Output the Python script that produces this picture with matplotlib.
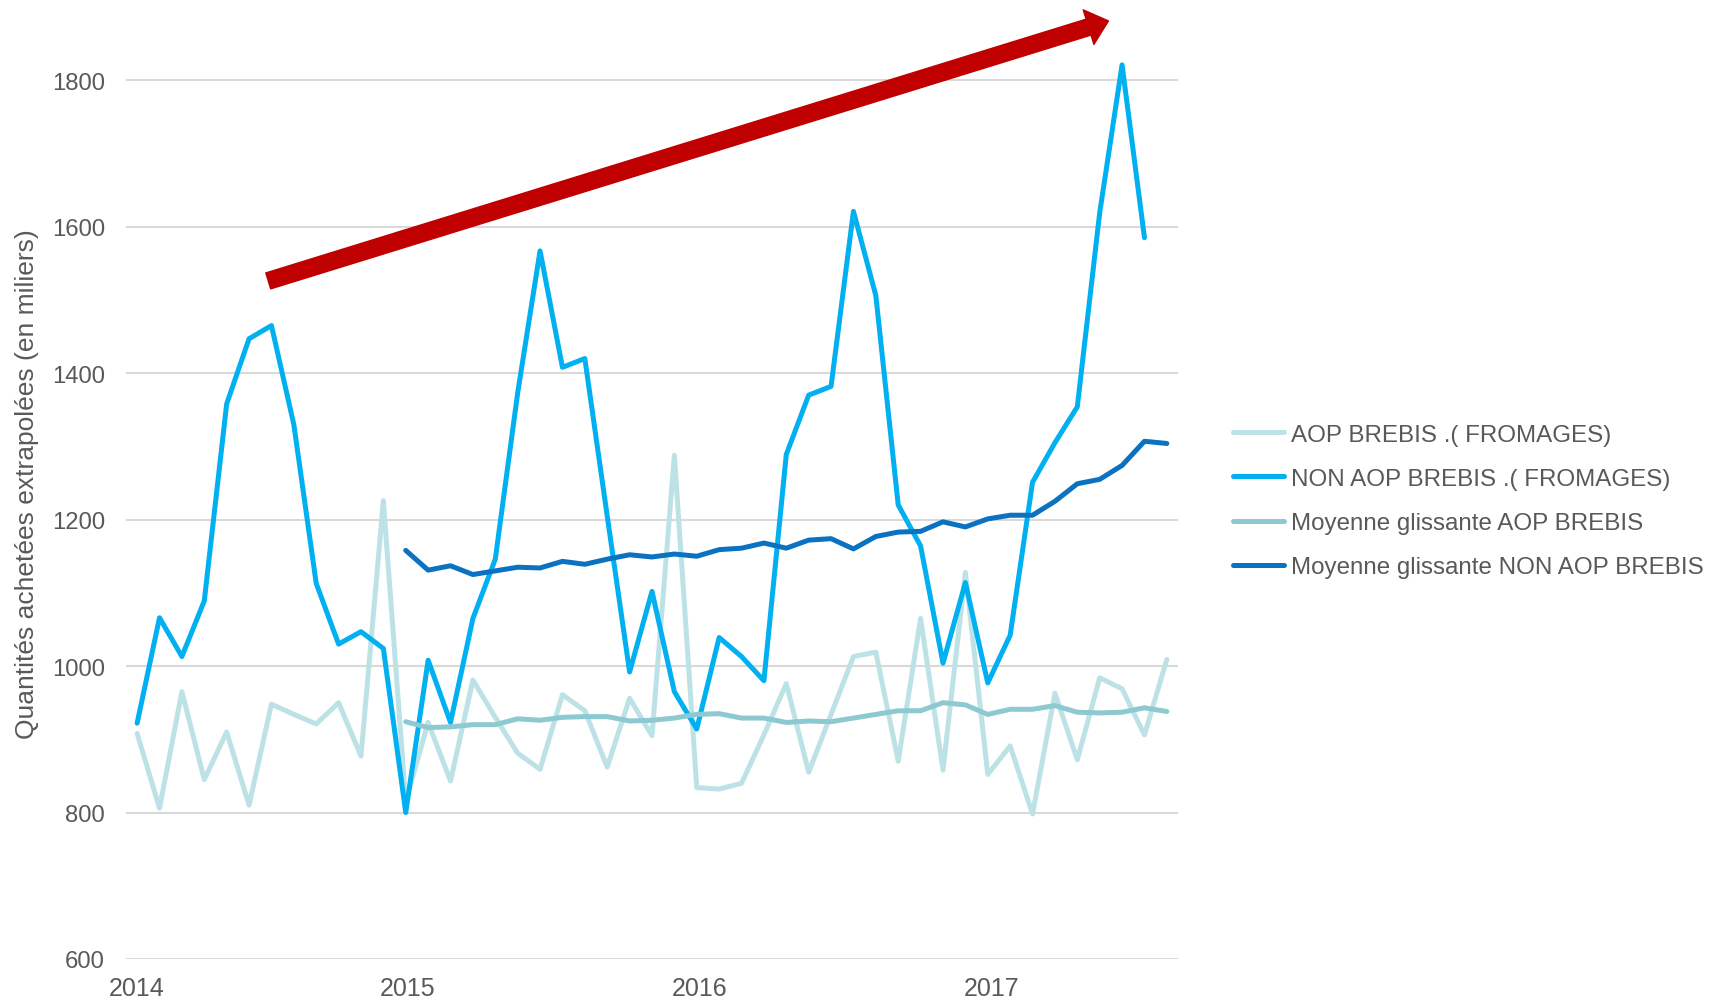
import matplotlib
matplotlib.use("Agg")
import matplotlib.pyplot as plt
import matplotlib.dates as mdates
from matplotlib.patches import FancyArrowPatch
import numpy as np
import pandas as pd

plt.rcParams["font.family"] = ["Liberation Sans", "DejaVu Sans"]

TEXT_COLOR = "#595959"

# 4-weekly periods
periods = pd.date_range("2014-01-28", periods=47, freq="28D")

aop = [908, 806, 965, 845, 910, 810, 948, 934, 921, 950, 877, 1226,
       815, 923, 843, 981, 930, 881, 859, 961, 939, 862, 956, 905, 1288,
       834, 832, 840, 906, 976, 855, 934, 1013, 1019, 870, 1065, 858, 1128,
       852, 891, 798, 963, 872, 984, 969, 906, 1009]

non_aop = [922, 1066, 1013, 1089, 1358, 1447, 1465, 1330, 1113, 1030, 1047, 1024,
           800, 1008, 923, 1065, 1146, 1373, 1567, 1408, 1420, 1205, 992, 1102, 965,
           914, 1039, 1013, 980, 1289, 1370, 1382, 1621, 1506, 1220, 1164, 1004, 1114,
           977, 1042, 1251, 1305, 1354, 1619, 1821, 1585]

# moving averages start with the 13th period
ma_aop = [924, 916, 917, 920, 920, 928, 926, 930, 931, 931, 925, 926, 929, 934,
          935, 929, 929, 923, 925, 924, 929, 934, 939, 939, 950, 947, 934,
          941, 941, 946, 937, 936, 937, 943, 938]

ma_non_aop = [1158, 1131, 1137, 1125, 1130, 1135, 1134, 1143, 1139, 1146, 1152, 1149, 1153, 1150,
              1159, 1161, 1168, 1161, 1172, 1174, 1160, 1177, 1183, 1184, 1197, 1190, 1201,
              1206, 1206, 1225, 1249, 1255, 1274, 1307, 1304]

series_labels = ["AOP BREBIS .( FROMAGES)", "NON AOP BREBIS .( FROMAGES)",
                 "Moyenne glissante AOP BREBIS", "Moyenne glissante NON AOP BREBIS"]

tick_dates = ["2014-01-28", "2015-01-01", "2016-01-01", "2017-01-01"]
tick_labels = ["2014", "2015", "2016", "2017"]

arrow_start = ("2014-07-11", 1526)
arrow_end = ("2017-05-27", 1881)

figure = plt.figure(figsize=(17.18, 10.03), dpi=100)
axis = figure.add_axes([0.0733, 0.0429, 0.6124, 0.9571])

axis.plot(periods, aop, c="#bde2e6", lw=3.6, label=series_labels[0], solid_capstyle="round")
axis.plot(periods[:len(non_aop)], non_aop, c="#00b0f0", lw=3.6, label=series_labels[1],
          solid_capstyle="round")
axis.plot(periods[12:], ma_aop, c="#8cc9d1", lw=3.6, label=series_labels[2], solid_capstyle="round")
axis.plot(periods[12:], ma_non_aop, c="#0a72c1", lw=3.6, label=series_labels[3],
          solid_capstyle="round")

start = (mdates.date2num(pd.Timestamp(arrow_start[0])), arrow_start[1])
end = (mdates.date2num(pd.Timestamp(arrow_end[0])), arrow_end[1])
arrow = FancyArrowPatch(start, end, arrowstyle="simple,tail_width=1.2,head_width=2.6,head_length=1.5",
                        mutation_scale=10, color="#c00000", shrinkA=0, shrinkB=0, clip_on=False,
                        zorder=5)
axis.add_patch(arrow)

axis.set_xlim(periods[0] - pd.Timedelta(days=14), periods[-1] + pd.Timedelta(days=14))
axis.set_ylim(600, 1911)
axis.set_yticks(np.arange(600, 1801, 200))
axis.set_xticks([pd.Timestamp(d) for d in tick_dates])
axis.set_xticklabels(tick_labels)

axis.grid(True, axis="y", color="#d9d9d9", lw=1.5)
axis.set_axisbelow(True)
for spine in axis.spines.values():
    spine.set_visible(False)
axis.tick_params(axis="both", length=0, colors=TEXT_COLOR)
axis.tick_params(axis="x", pad=12, labelsize=18)
axis.tick_params(axis="y", pad=15, labelsize=17.2)

figure.text(0.016, 0.5175, "Quantités achetées extrapolées (en miliers)", rotation=90,
            ha="center", va="center", fontsize=19, color=TEXT_COLOR)

figure.legend(loc="center left", bbox_to_anchor=(0.7177, 0.4995), frameon=False,
              fontsize=17.4, labelcolor=TEXT_COLOR, handlelength=2.1, handletextpad=0.28,
              borderpad=0, borderaxespad=0, labelspacing=0.92)

figure.savefig("out.png", dpi=100)
